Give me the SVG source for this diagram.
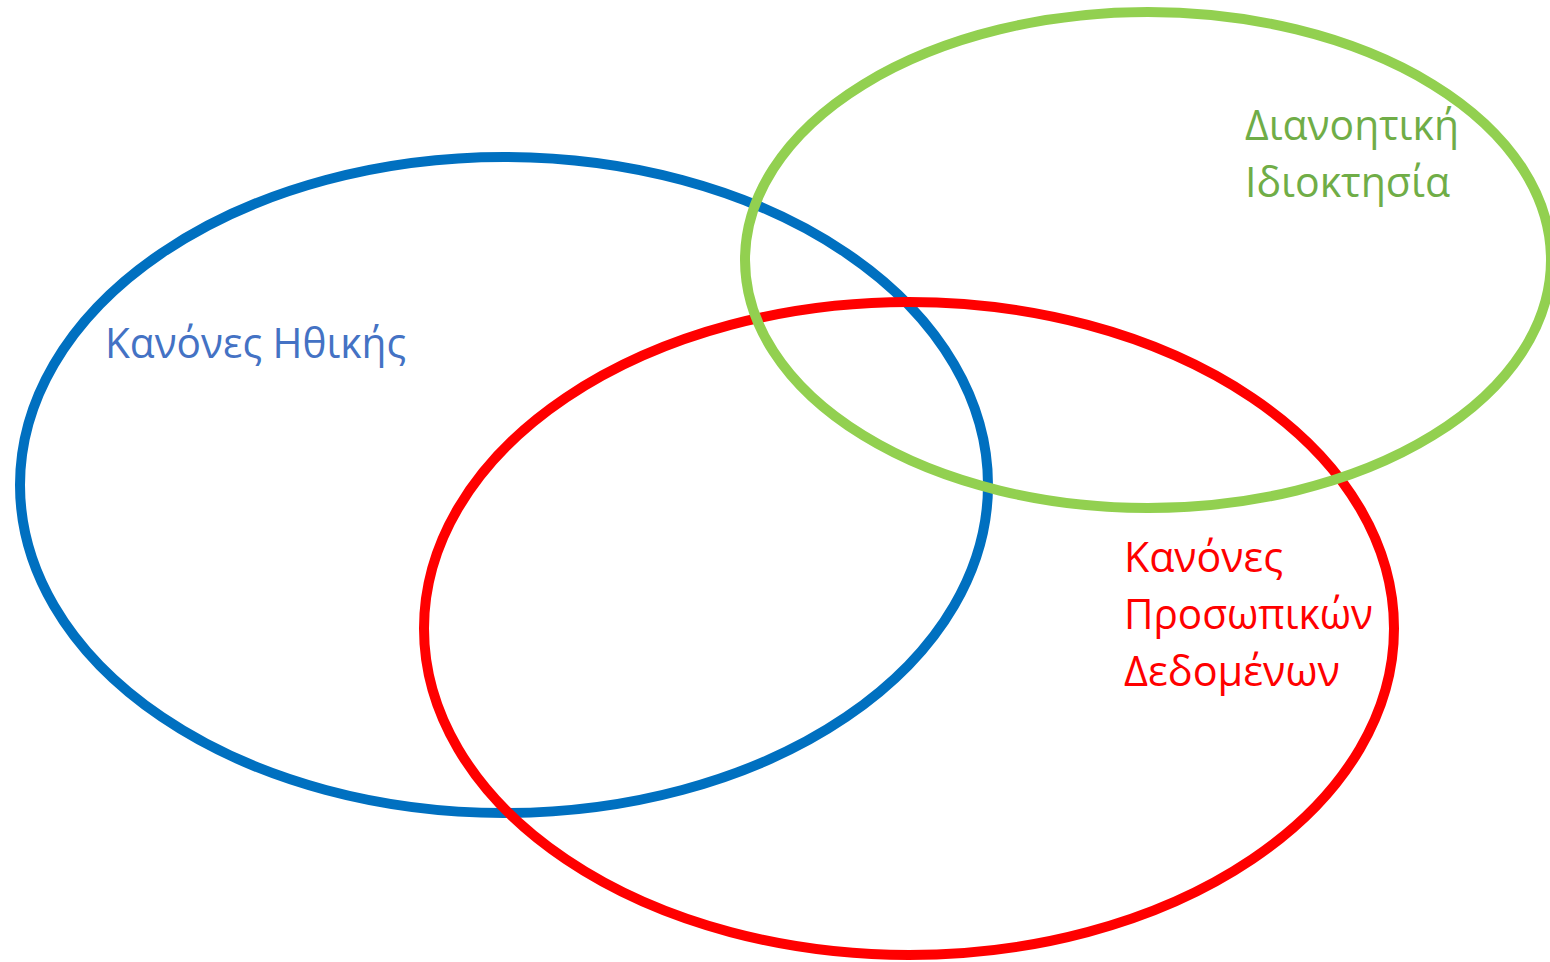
<svg xmlns="http://www.w3.org/2000/svg" width="1550" height="962" viewBox="0 0 1550 962">
<style>
.e{fill:none;stroke-width:10}
.t{font-family:"Open Sans","Noto Sans","Liberation Sans",sans-serif;font-size:42px}
</style>
<rect width="1550" height="962" fill="#fff"/>
<g id="blue">
<ellipse class="e" cx="504" cy="485" rx="484" ry="328" stroke="#0070C0"/>
<text class="t" x="105" y="358" fill="#4472C4" textLength="301" lengthAdjust="spacingAndGlyphs">Κανόνες Ηθικής</text>
</g>
<g id="red">
<ellipse class="e" cx="909" cy="628.5" rx="485" ry="326.5" stroke="#FF0000"/>
<text class="t" fill="#FF0000"><tspan x="1124" y="572" textLength="159" lengthAdjust="spacingAndGlyphs">Κανόνες</tspan><tspan x="1124" y="629" textLength="249" lengthAdjust="spacingAndGlyphs">Προσωπικών</tspan><tspan x="1124" y="686" textLength="216" lengthAdjust="spacingAndGlyphs">Δεδομένων</tspan></text>
</g>
<g id="green">
<ellipse class="e" cx="1148" cy="260" rx="403" ry="248" stroke="#92D050" stroke-width="11"/>
<text class="t" fill="#70AD47"><tspan x="1245" y="140" textLength="214" lengthAdjust="spacingAndGlyphs">Διανοητική</tspan><tspan x="1245" y="197" textLength="205" lengthAdjust="spacingAndGlyphs">Ιδιοκτησία</tspan></text>
</g>
</svg>
